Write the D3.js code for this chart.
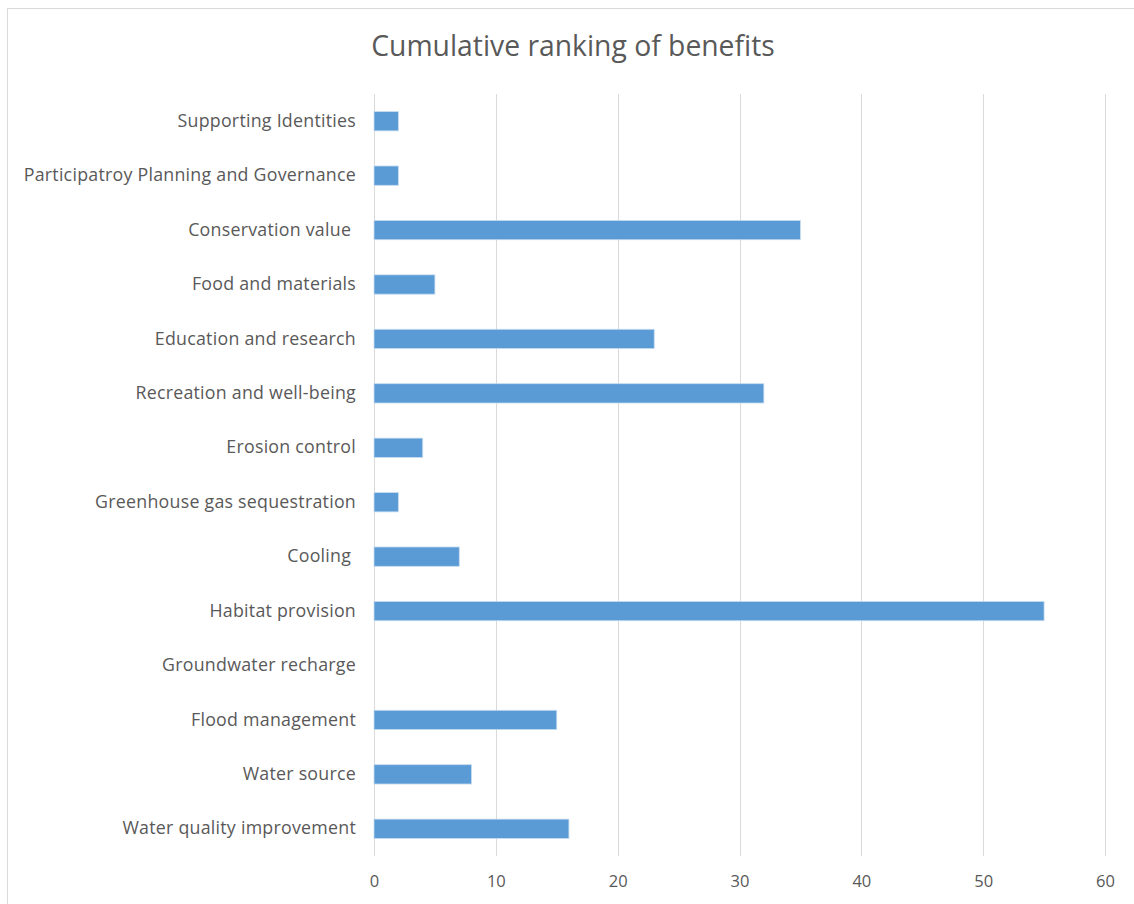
<!DOCTYPE html>
<html>
<head>
<meta charset="utf-8">
<script src="https://cdn.jsdelivr.net/npm/d3@7"></script>
<style>
  html, body { margin: 0; padding: 0; background: #fff; }
  svg { display: block; }
</style>
</head>
<body>
<svg id="chart" width="1134" height="904"></svg>
<script>
// Benefit categories, listed top to bottom
const categories = [
  "Supporting Identities",
  "Participatroy Planning and Governance",
  "Conservation value ",
  "Food and materials",
  "Education and research",
  "Recreation and well-being",
  "Erosion control",
  "Greenhouse gas sequestration",
  "Cooling ",
  "Habitat provision",
  "Groundwater recharge",
  "Flood management",
  "Water source",
  "Water quality improvement"
];
// Cumulative ranking score for each category
const scores = [2, 2, 35, 5, 23, 32, 4, 2, 7, 55, 0, 15, 8, 16];
// Value axis tick labels
const xTicks = [0, 10, 20, 30, 40, 50, 60];
const titleText = "Cumulative ranking of benefits";

const svg = d3.select("#chart");
const font = "'Open Sans', sans-serif";
const textColor = "#595959";

// Chart frame
svg.append("rect")
  .attr("x", 7.5).attr("y", 8.5)
  .attr("width", 1140).attr("height", 920)
  .attr("fill", "#fff").attr("stroke", "#d9d9d9").attr("stroke-width", 1);

const plot = { left: 374, right: 1105, top: 94, bottom: 856 };

const x = d3.scaleLinear()
  .domain([xTicks[0], xTicks[xTicks.length - 1]])
  .range([plot.left, plot.right]);

const y = d3.scaleBand()
  .domain(categories)
  .range([plot.top, plot.bottom])
  .paddingInner(0.645)
  .paddingOuter(0.3225);

// Vertical gridlines
svg.append("g")
  .selectAll("line")
  .data(xTicks)
  .join("line")
  .attr("x1", d => Math.round(x(d)) + 0.5)
  .attr("x2", d => Math.round(x(d)) + 0.5)
  .attr("y1", plot.top)
  .attr("y2", plot.bottom)
  .attr("stroke", "#d9d9d9")
  .attr("stroke-width", 1);

// Bars
svg.append("g")
  .selectAll("rect")
  .data(categories.map((c, i) => ({ c, v: scores[i] })).filter(d => d.v > 0))
  .join("rect")
  .attr("x", x(0))
  .attr("y", d => y(d.c))
  .attr("width", d => x(d.v) - x(0))
  .attr("height", y.bandwidth())
  .attr("fill", "#5b9bd5")
  .attr("stroke", "#c6dcf0")
  .attr("stroke-width", 0.8);

// Category axis labels
const yAxis = d3.axisLeft(y).tickSize(0).tickPadding(18);
const gy = svg.append("g")
  .attr("transform", `translate(${plot.left},0)`)
  .call(yAxis);
gy.select(".domain").remove();
gy.selectAll("text")
  .attr("font-family", font)
  .attr("font-size", 17.8)
  .attr("letter-spacing", 0.25)
  .attr("fill", textColor)
  .style("white-space", "pre");

// Value axis labels
const xAxis = d3.axisBottom(x).tickValues(xTicks).tickSize(0).tickPadding(19);
const gx = svg.append("g")
  .attr("transform", `translate(0,${plot.bottom})`)
  .call(xAxis);
gx.select(".domain").remove();
gx.selectAll("text")
  .attr("font-family", font)
  .attr("font-size", 16.5)
  .attr("fill", textColor);

// Title
svg.append("text")
  .attr("x", 573)
  .attr("y", 56)
  .attr("text-anchor", "middle")
  .attr("font-family", font)
  .attr("font-size", 28.3)
  .attr("fill", textColor)
  .text(titleText);
</script>
</body>
</html>
